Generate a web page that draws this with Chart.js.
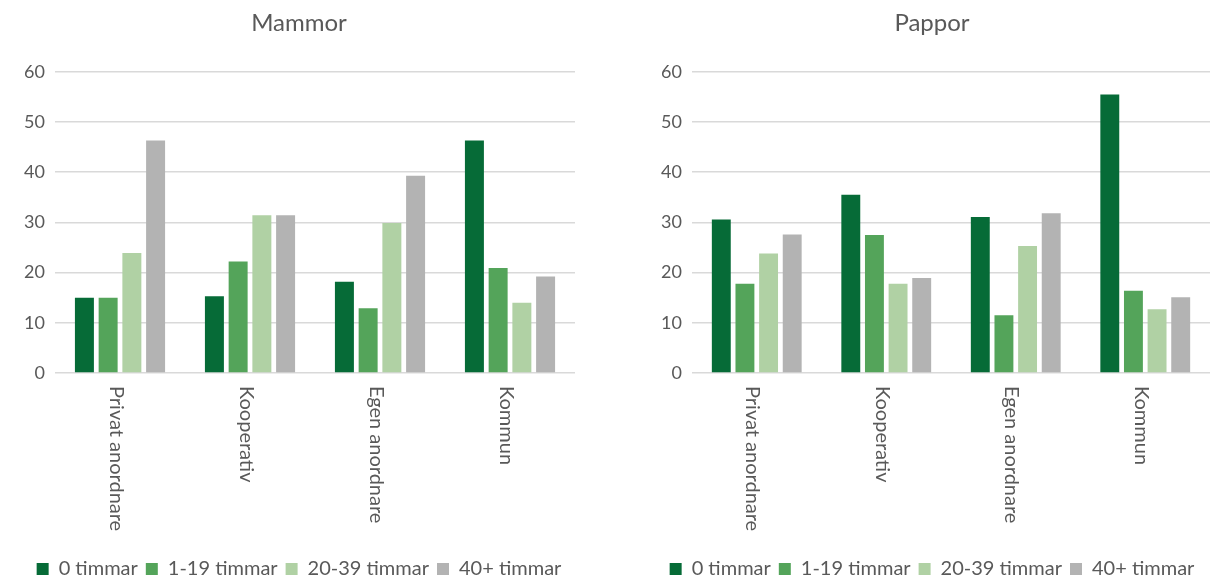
<!DOCTYPE html>
<html>
<head>
<meta charset="utf-8">
<script src="https://cdn.jsdelivr.net/npm/chart.js@4/dist/chart.umd.min.js"></script>
<style>
  html, body { margin: 0; padding: 0; background: #fff; overflow: hidden; }
  body { width: 1214px; height: 576px; position: relative; }
  .box { position: absolute; top: 0; height: 590px; }
  #left { left: 0; width: 600px; }
  #right { left: 640px; width: 594px; }
</style>
</head>
<body>
<div class="box" id="left"><canvas id="mammorChart"></canvas></div>
<div class="box" id="right"><canvas id="papporChart"></canvas></div>
<script>
// Data
const categories = ['Privat anordnare', 'Kooperativ', 'Egen anordnare', 'Kommun'];
const seriesNames = ['0 timmar', '1-19 timmar', '20-39 timmar', '40+ timmar'];
const seriesColors = ['#066b37', '#54a45a', '#b0d1a4', '#b3b3b3'];
const yTicks = [0, 10, 20, 30, 40, 50, 60];

// Mammor
const mammor0 = [15.0, 15.3, 18.2, 46.3];
const mammor1_19 = [15.0, 22.2, 12.9, 20.9];
const mammor20_39 = [23.9, 31.4, 29.9, 14.0];
const mammor40 = [46.3, 31.4, 39.3, 19.2];

// Pappor
const pappor0 = [30.6, 35.5, 31.1, 55.5];
const pappor1_19 = [17.8, 27.5, 11.5, 16.4];
const pappor20_39 = [23.8, 17.8, 25.3, 12.7];
const pappor40 = [27.6, 18.9, 31.8, 15.1];

const textColor = '#595959';
const fontFamily = 'Lato, "Noto Sans", sans-serif';

// Kategorietiketter roterade medurs (läses uppifrån och ned)
const rotatedLabels = {
    id: 'rotatedLabels',
    afterDraw(chart) {
        const ctx = chart.ctx;
        const xScale = chart.scales.x;
        ctx.save();
        ctx.font = '20px ' + fontFamily;
        ctx.fillStyle = textColor;
        ctx.textAlign = 'left';
        ctx.textBaseline = 'middle';
        categories.forEach((label, i) => {
            const x = xScale.getPixelForValue(i);
            ctx.save();
            ctx.translate(x - 4, chart.chartArea.bottom + 13);
            ctx.rotate(Math.PI / 2);
            ctx.fillText(label, 0, 0);
            ctx.restore();
        });
        ctx.restore();
    }
};

function buildDatasets(values) {
    return values.map((data, i) => ({
        label: seriesNames[i],
        data: data,
        backgroundColor: seriesColors[i],
        borderWidth: 0,
        categoryPercentage: 0.73,
        barPercentage: 0.8
    }));
}

function createChart(canvasId, title, values, padLeft, yAxisWidth, padRight) {
    return new Chart(document.getElementById(canvasId), {
        type: 'bar',
        data: {
            labels: categories,
            datasets: buildDatasets(values)
        },
        plugins: [rotatedLabels],
        options: {
            responsive: true,
            maintainAspectRatio: false,
            animation: false,
            layout: { padding: { left: padLeft, right: padRight, top: 0, bottom: 1 } },
            plugins: {
                title: {
                    display: true,
                    text: title,
                    color: textColor,
                    font: { family: fontFamily, size: 24, weight: 'normal' },
                    padding: { top: 9, bottom: 34 }
                },
                legend: {
                    position: 'bottom',
                    labels: {
                        color: textColor,
                        font: { family: fontFamily, size: 20 },
                        boxWidth: 12,
                        boxHeight: 12,
                        padding: 8
                    }
                },
                tooltip: { enabled: false }
            },
            scales: {
                x: {
                    grid: { display: false },
                    border: { display: false },
                    ticks: { display: false },
                    afterFit: scale => { scale.height = 178; }
                },
                y: {
                    min: 0,
                    max: 60,
                    afterBuildTicks: scale => { scale.ticks = yTicks.map(v => ({ value: v })); },
                    grid: { color: '#d9d9d9', lineWidth: 1.5, drawTicks: false },
                    border: { display: false },
                    ticks: {
                        color: textColor,
                        font: { family: fontFamily, size: 18 },
                        padding: 10
                    },
                    afterFit: scale => { scale.width = yAxisWidth; }
                }
            }
        }
    });
}

createChart('mammorChart', 'Mammor', [mammor0, mammor1_19, mammor20_39, mammor40], 23, 32, 25);
createChart('papporChart', 'Pappor', [pappor0, pappor1_19, pappor20_39, pappor40], 14, 38, 24);
</script>
</body>
</html>
